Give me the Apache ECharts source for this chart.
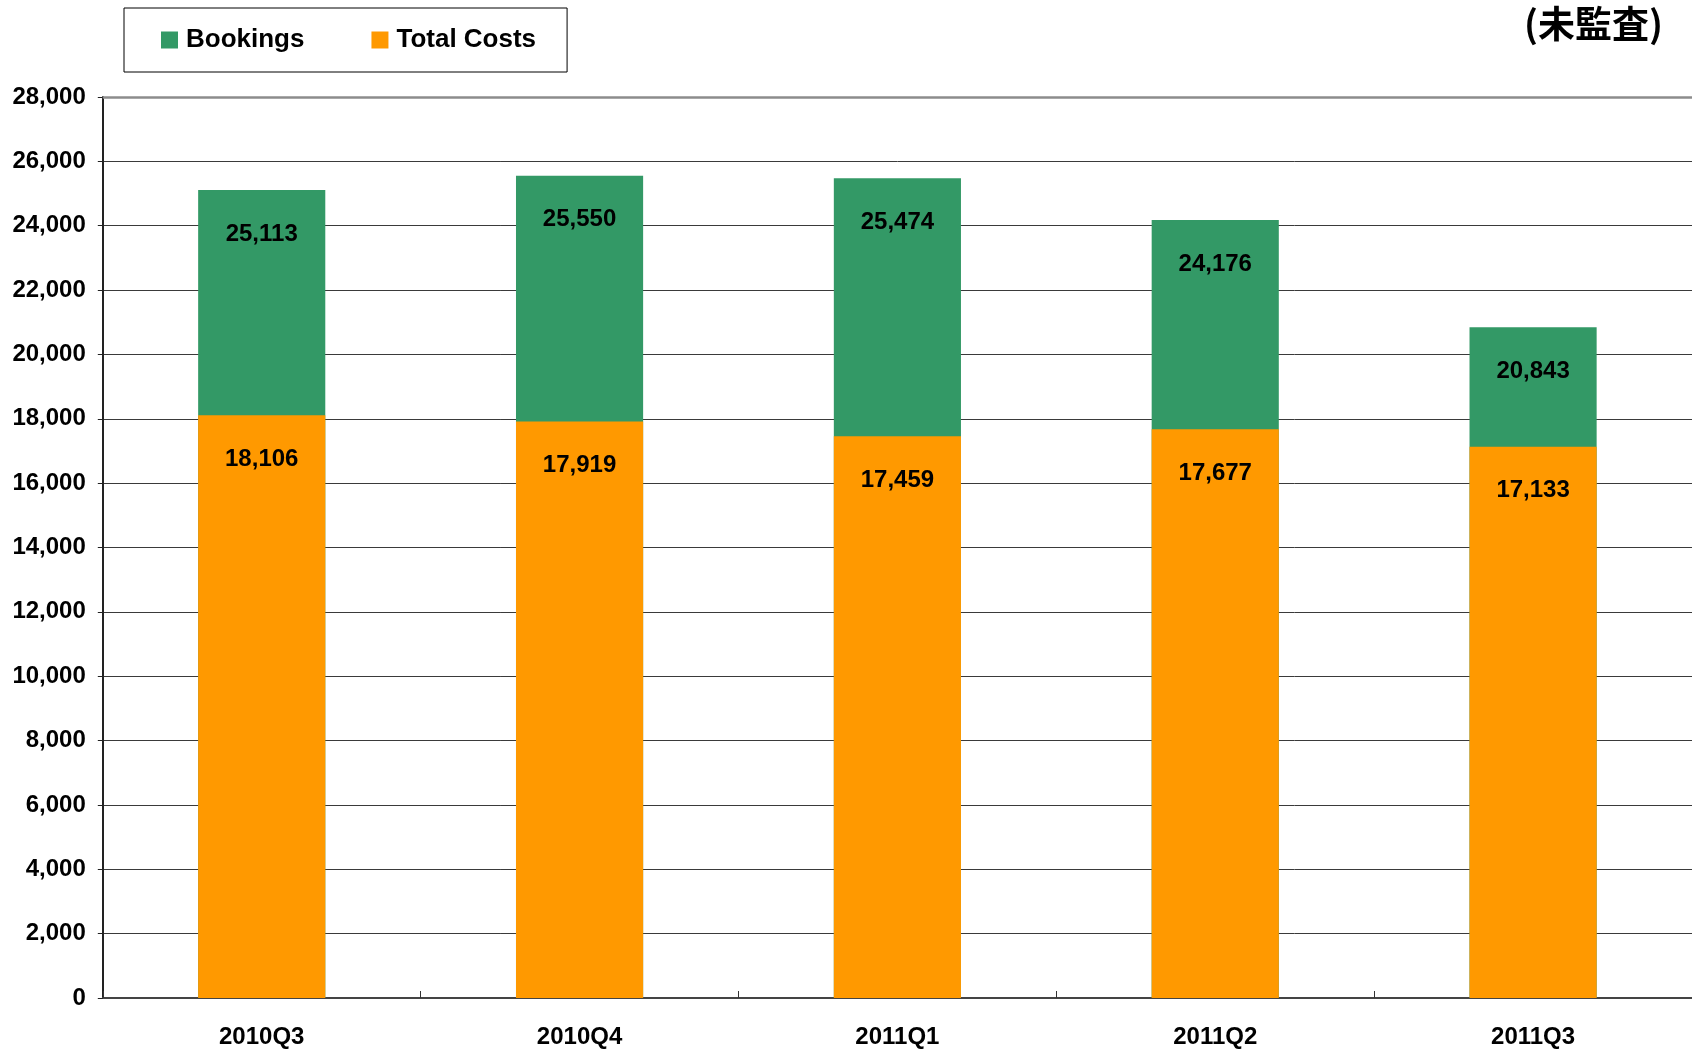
<!DOCTYPE html>
<html>
<head>
<meta charset="utf-8">
<script src="https://cdn.jsdelivr.net/npm/echarts@6/dist/echarts.min.js"></script>
<style>
html,body{margin:0;padding:0;background:#fff;}
#main{width:1692px;height:1049px;}
</style>
</head>
<body>
<div id="main"></div>
<script>
const categories = ['2010Q3', '2010Q4', '2011Q1', '2011Q2', '2011Q3'];
const bookings = [25113, 25550, 25474, 24176, 20843];
const totalCosts = [18106, 17919, 17459, 17677, 17133];
const seriesNames = ['Bookings', 'Total Costs'];
const noteText = '(未監査)';

const font = '"Liberation Sans", Arial, sans-serif';
const chart = echarts.init(document.getElementById('main'), null, {renderer: 'canvas'});

const labelStyle = {
  show: true,
  position: 'insideTop',
  distance: 32,
  color: '#000',
  fontFamily: font,
  fontWeight: 'bold',
  fontSize: 24,
  formatter: p => p.value.toLocaleString('en-US')
};

chart.setOption({
  animation: false,
  backgroundColor: '#fff',
  title: {
    text: noteText,
    right: 24,
    top: 0,
    textStyle: {fontFamily: '"Noto Sans CJK JP", sans-serif', fontWeight: 'bold', fontSize: 37, color: '#000'}
  },
  legend: {
    left: 124,
    top: 8,
    orient: 'horizontal',
    padding: [19, 31, 19, 37],
    borderColor: '#000',
    borderWidth: 1,
    itemWidth: 17,
    itemHeight: 17,
    itemGap: 67,
    icon: 'rect',
    data: seriesNames,
    textStyle: {fontFamily: font, fontWeight: 'bold', fontSize: 26, color: '#000', padding: [0, 0, 0, 3]}
  },
  grid: {left: 102.8, right: -11, top: 97, bottom: 51, containLabel: false},
  xAxis: {
    type: 'category',
    data: categories,
    axisLine: {show: true, lineStyle: {color: '#444', width: 2}},
    axisTick: {show: true, inside: true, length: 7, lineStyle: {color: '#333', width: 1}},
    axisLabel: {fontFamily: font, fontWeight: 'bold', fontSize: 24, color: '#000', margin: 27},
    splitLine: {show: false}
  },
  yAxis: {
    type: 'value',
    min: 0,
    max: 28000,
    interval: 2000,
    axisLine: {show: true, lineStyle: {color: '#222', width: 2}},
    axisTick: {show: true, inside: false, length: 5, lineStyle: {color: '#222'}},
    axisLabel: {fontFamily: font, fontWeight: 'bold', fontSize: 24, color: '#000', margin: 17,
      formatter: v => v.toLocaleString('en-US')},
    splitLine: {show: true, lineStyle: {color: '#3a3a3a', width: 1}}
  },
  series: [
    {
      name: seriesNames[0],
      type: 'bar',
      data: bookings,
      barWidth: '40%',
      barGap: '-100%',
      itemStyle: {color: '#339966'},
      label: labelStyle,
      markLine: {
        silent: true, symbol: 'none', label: {show: false},
        lineStyle: {color: '#8c8c8c', width: 2.5, type: 'solid'},
        data: [{yAxis: 28000}]
      }
    },
    {
      name: seriesNames[1],
      type: 'bar',
      data: totalCosts,
      barWidth: '40%',
      barGap: '-100%',
      itemStyle: {color: '#FF9900'},
      label: labelStyle
    }
  ]
});
</script>
</body>
</html>
